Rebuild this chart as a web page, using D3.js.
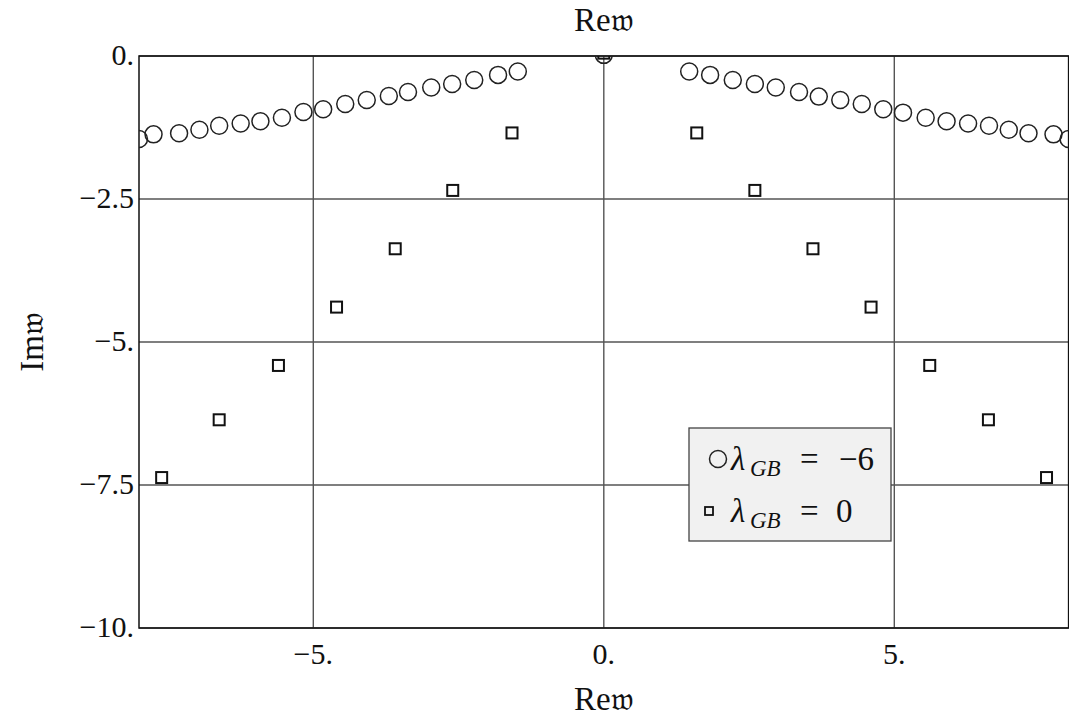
<!DOCTYPE html>
<meta charset="utf-8">
<body>
<script src="https://cdn.jsdelivr.net/npm/d3@7"></script>
<style>
    html, body {
        margin: 0;
        background: #fff;
    }
    text {
        font-family: "Liberation Serif", "DejaVu Serif", serif;
        fill: #111;
    }
</style>
<script>
// lambda_GB = -6 (circles)
var circRe = [-8.0, -7.75, -7.31, -6.96, -6.62, -6.25, -5.91, -5.54, -5.17, -4.83,
              -4.45, -4.08, -3.70, -3.37, -2.97, -2.61, -2.23, -1.82, -1.48, 0,
              1.47, 1.83, 2.22, 2.60, 2.96, 3.36, 3.70, 4.07, 4.44, 4.81,
              5.15, 5.54, 5.90, 6.27, 6.63, 6.97, 7.31, 7.74, 8.0];
var circIm = [-1.45, -1.37, -1.35, -1.29, -1.22, -1.18, -1.14, -1.08, -0.98, -0.93,
              -0.84, -0.77, -0.70, -0.63, -0.55, -0.49, -0.42, -0.33, -0.27, 0.02,
              -0.27, -0.33, -0.42, -0.49, -0.55, -0.63, -0.71, -0.77, -0.84, -0.93,
              -0.99, -1.08, -1.14, -1.18, -1.22, -1.29, -1.35, -1.37, -1.45];
// lambda_GB = 0 (squares)
var sqRe = [-7.61, -6.62, -5.60, -4.60, -3.59, -2.60, -1.58, 0,
            1.60, 2.60, 3.60, 4.60, 5.61, 6.62, 7.62];
var sqIm = [-7.37, -6.36, -5.41, -4.39, -3.37, -2.35, -1.345, 0.05,
            -1.345, -2.35, -3.37, -4.39, -5.41, -6.36, -7.37];

var xTicks = [-5, 0, 5],
    yTicks = [0, -2.5, -5, -7.5, -10];
var xTickLabels = ["\u22125.", "0.", "5."],
    yTickLabels = ["0.", "\u22122.5", "\u22125.", "\u22127.5", "\u221210."];
var legendLabels = ["\u22126", "0"];

var width = 1069,
    height = 721,
    pLeft = 139, pRight = 1068.6, pTop = 56, pBottom = 628;

var x = d3.scaleLinear().domain([-8, 8]).range([pLeft, pRight]),
    y = d3.scaleLinear().domain([-10, 0]).range([pBottom, pTop]);

var svg = d3.select("body").append("svg")
    .attr("width", width)
    .attr("height", height);

svg.append("defs").append("clipPath")
    .attr("id", "clip")
    .append("rect")
    .attr("x", pLeft).attr("y", pTop)
    .attr("width", pRight - pLeft).attr("height", pBottom - pTop);

// grid
svg.append("g").selectAll("line")
    .data(xTicks)
    .enter().append("line")
    .attr("x1", function(d) { return x(d); })
    .attr("x2", function(d) { return x(d); })
    .attr("y1", pTop).attr("y2", pBottom)
    .attr("stroke", "#555").attr("stroke-width", 1.4);

svg.append("g").selectAll("line")
    .data(yTicks)
    .enter().append("line")
    .attr("y1", function(d) { return y(d); })
    .attr("y2", function(d) { return y(d); })
    .attr("x1", pLeft).attr("x2", pRight)
    .attr("stroke", "#555").attr("stroke-width", 1.4);

// frame
svg.append("rect")
    .attr("x", pLeft).attr("y", pTop)
    .attr("width", pRight - pLeft).attr("height", pBottom - pTop)
    .attr("fill", "none")
    .attr("stroke", "#111")
    .attr("stroke-width", 1.5);

// tick labels
svg.append("g").selectAll("text")
    .data(xTicks)
    .enter().append("text")
    .attr("x", function(d) { return x(d); })
    .attr("y", pBottom + 36)
    .attr("text-anchor", "middle")
    .style("font-size", "30px")
    .text(function(d, i) { return xTickLabels[i]; });

svg.append("g").selectAll("text")
    .data(yTicks)
    .enter().append("text")
    .attr("x", pLeft - 5)
    .attr("y", function(d) { return y(d) + 9; })
    .attr("text-anchor", "end")
    .style("font-size", "30px")
    .text(function(d, i) { return yTickLabels[i]; });

// axis labels
svg.append("text")
    .attr("x", x(0)).attr("y", 31)
    .attr("text-anchor", "middle")
    .style("font-size", "33px")
    .text("Re\uD835\uDD34");

svg.append("text")
    .attr("x", x(0)).attr("y", 710)
    .attr("text-anchor", "middle")
    .style("font-size", "33px")
    .text("Re\uD835\uDD34");

svg.append("text")
    .attr("transform", "translate(43," + y(-5) + ") rotate(-90)")
    .attr("text-anchor", "middle")
    .style("font-size", "33px")
    .text("Im\uD835\uDD34");

// points
var plot = svg.append("g").attr("clip-path", "url(#clip)");

plot.selectAll("circle")
    .data(circRe)
    .enter().append("circle")
    .attr("cx", function(d) { return x(d); })
    .attr("cy", function(d, i) { return y(circIm[i]); })
    .attr("r", 8.5)
    .attr("fill", "none")
    .attr("stroke", "#222")
    .attr("stroke-width", 1.5);

var s = 11;
plot.selectAll("rect.sq")
    .data(sqRe)
    .enter().append("rect")
    .attr("class", "sq")
    .attr("x", function(d) { return x(d) - s / 2; })
    .attr("y", function(d, i) { return y(sqIm[i]) - s / 2; })
    .attr("width", s).attr("height", s)
    .attr("fill", "none")
    .attr("stroke", "#111")
    .attr("stroke-width", 2);

// legend
var lg = svg.append("g").attr("transform", "translate(689,428)");
lg.append("rect")
    .attr("width", 202).attr("height", 113)
    .attr("fill", "#f1f1f1")
    .attr("stroke", "#444")
    .attr("stroke-width", 1.3);

lg.append("circle")
    .attr("cx", 29).attr("cy", 31).attr("r", 8.5)
    .attr("fill", "none").attr("stroke", "#222").attr("stroke-width", 1.5);
lg.append("rect")
    .attr("x", 16).attr("y", 79).attr("width", 8).attr("height", 8)
    .attr("fill", "none").attr("stroke", "#111").attr("stroke-width", 1.8);

legendLabels.forEach(function(v, i) {
    var t = lg.append("text")
        .attr("y", 42 + i * 52)
        .style("font-size", "33px");
    t.append("tspan").attr("x", 42).style("font-style", "italic").text("\u03BB");
    t.append("tspan").attr("x", 61).style("font-style", "italic").style("font-size", "23px")
        .attr("dy", 6).text("GB");
    t.append("tspan").attr("x", 111).attr("dy", -6).attr("textLength", 26).text("=");
    t.append("tspan").attr("x", i === 0 ? 150 : 147).text(v);
});
</script>
